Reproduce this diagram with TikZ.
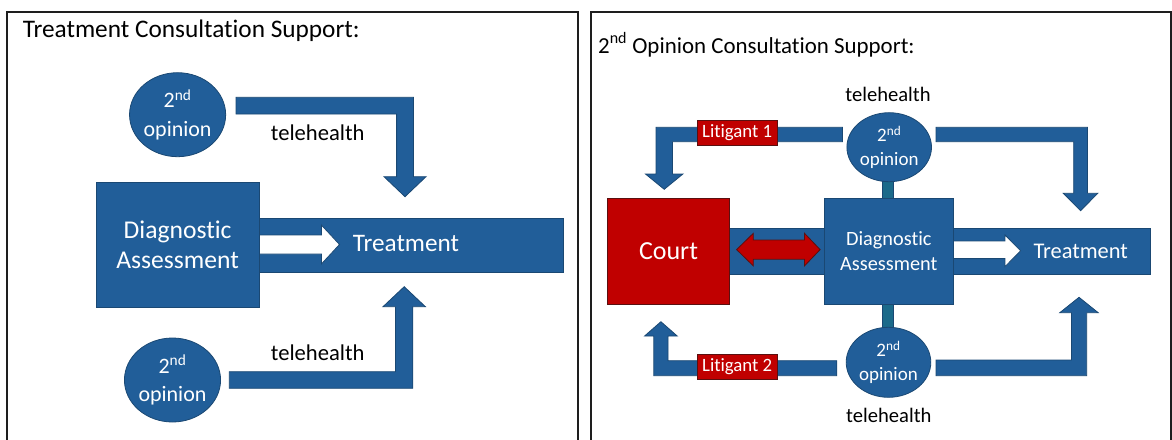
\documentclass[tikz,border=0pt]{standalone}
\usepackage{fontspec}
\setmainfont{Carlito}[Ligatures=NoCommon]
\usetikzlibrary{shapes.geometric}
\definecolor{bfill}{HTML}{215E99}
\definecolor{bline}{HTML}{1A4873}
\definecolor{rfill}{HTML}{C00000}
\definecolor{rline}{HTML}{5A1010}
\definecolor{stem}{HTML}{1B6A8A}
\definecolor{frame}{HTML}{1E1E1E}
\tikzset{
  frameline/.style={draw=frame,line width=2pt},
  blk/.style={fill=bfill,draw=bline,line width=0.8pt},
  redblk/.style={fill=rfill,draw=rline,line width=0.8pt},
  whitearrow/.style={fill=white,draw=bline,line width=0.8pt},
  box/.style={rectangle,blk,inner sep=0pt,text=white,align=center},
  courtbox/.style={rectangle,redblk,inner sep=0pt,text=white,align=center},
  opin/.style={ellipse,blk,inner sep=0pt,text=white,align=center},
  lit/.style={rectangle,redblk,inner sep=0pt,text=white,minimum width=80.6pt,minimum height=24.3pt,font=\fontsize{18.8}{22}\selectfont},
  lbl/.style={inner sep=0pt,text=black},
  bar/.style={rectangle,blk,inner sep=0pt},
}
\begin{document}
\begin{tikzpicture}[x=1pt,y=-1pt]
\useasboundingbox (0,0) rectangle (1172,439);
% frames
\draw[frameline] (7,440) -- (7,12) -- (578,12) -- (578,440);
\draw[frameline] (591,440) -- (591,12) -- (1171,12) -- (1171,440);

% ===== LEFT PANEL =====
\node[lbl,anchor=base west,font=\fontsize{25.3}{28}\selectfont] (t1) at (22.6,37) {Treatment Consultation Support:};

% bent arrows
\path[blk] (236,97.3) -- (413.5,97.3) -- (413.5,176.7) -- (426,176.7) -- (405,196.7) -- (384,176.7) -- (396.6,176.7) -- (396.6,114) -- (236,114) -- cycle;
\path[blk] (229.3,371.7) -- (395.5,371.7) -- (395.5,306.7) -- (383,306.7) -- (404.2,286.7) -- (425.4,306.7) -- (412.8,306.7) -- (412.8,388.3) -- (229.3,388.3) -- cycle;

\node[lbl,font=\fontsize{22.6}{26}\selectfont] (th1) at (317.7,132.7) {telehealth};
\node[lbl,font=\fontsize{22.6}{26}\selectfont] (th2) at (317.7,352.3) {telehealth};

\node[opin,minimum width=94pt,minimum height=84pt,font=\fontsize{22}{28.5}\selectfont] (o1) at (177.6,114.7) {2\textsuperscript{nd}\\opinion};
\node[opin,minimum width=94pt,minimum height=84pt,font=\fontsize{22}{28.5}\selectfont] (o2) at (172.5,380) {2\textsuperscript{nd}\\opinion};

% treatment bar
\node[bar,anchor=north west,minimum width=303.4pt,minimum height=54pt] (tb1) at (259.4,218.3) {};
\path[whitearrow] (259.4,235) -- (321.4,235) -- (321.4,225) -- (339.5,244.5) -- (321.4,264) -- (321.4,254) -- (259.4,254) -- cycle;
\node[lbl,text=white,font=\fontsize{25.2}{30}\selectfont] (tr1) at (406,244) {Treatment};

\node[box,minimum width=163.5pt,minimum height=125pt,font=\fontsize{25.6}{30}\selectfont] (d1) at (177.65,244.8) {Diagnostic\\Assessment};

% ===== RIGHT PANEL =====
\node[lbl,anchor=base west,font=\fontsize{22.9}{26}\selectfont] (t2) at (598,53) {2\textsuperscript{nd} Opinion Consultation Support:};

% stems
\path[fill=stem,draw=bline,line width=0.5pt] (882.5,175) rectangle (893.6,199);
\path[fill=stem,draw=bline,line width=0.5pt] (882.5,304) rectangle (893.6,332);

% bent arrows
\path[blk] (842.4,127.3) -- (656,127.3) -- (656,174) -- (645.5,174) -- (664.2,189.3) -- (682.9,174) -- (672.4,174) -- (672.4,141.7) -- (842.4,141.7) -- cycle;
\path[blk] (936,127.3) -- (1087.4,127.3) -- (1087.4,193.3) -- (1097.8,193.3) -- (1080.55,210.7) -- (1063.3,193.3) -- (1073.7,193.3) -- (1073.7,141.7) -- (936,141.7) -- cycle;
\path[blk] (836.8,360.7) -- (668,360.7) -- (668,336) -- (677.2,336) -- (660.9,321.7) -- (644.6,336) -- (653.8,336) -- (653.8,375.7) -- (836.8,375.7) -- cycle;
\path[blk] (936,360) -- (1071.4,360) -- (1071.4,312.7) -- (1059.8,312.7) -- (1079,297.3) -- (1098.2,312.7) -- (1086.7,312.7) -- (1086.7,375.7) -- (936,375.7) -- cycle;

\node[lit] (l1) at (737.2,132.85) {Litigant 1};
\node[lit] (l2) at (737.2,367) {Litigant 2};

\node[lbl,font=\fontsize{20.6}{24}\selectfont] (th3) at (888,94) {telehealth};
\node[lbl,font=\fontsize{20.6}{24}\selectfont] (th4) at (888.8,415.7) {telehealth};

\node[opin,minimum width=84.6pt,minimum height=69pt,font=\fontsize{19}{23.4}\selectfont] (o3) at (889.2,147.2) {2\textsuperscript{nd}\\opinion};
\node[opin,minimum width=84.6pt,minimum height=70pt,font=\fontsize{19}{23.4}\selectfont] (o4) at (888.5,362.3) {2\textsuperscript{nd}\\opinion};

% bars
\node[bar,anchor=north west,minimum width=95.4pt,minimum height=45.7pt] (cb) at (729.2,228.3) {};
\node[bar,anchor=north west,minimum width=196.8pt,minimum height=45.7pt] (tb2) at (953,228.3) {};

% red double arrow
\path[redblk] (736.6,249.6) -- (753.3,233.3) -- (753.3,240) -- (804.5,240) -- (804.5,233.3) -- (820.1,249.6) -- (804.5,265.9) -- (804.5,259.2) -- (753.3,259.2) -- (753.3,265.9) -- cycle;

% white arrow
\path[whitearrow] (953,241) -- (1005,241) -- (1005,235) -- (1020.6,250.8) -- (1005,266.6) -- (1005,258.6) -- (953,258.6) -- cycle;
\node[lbl,text=white,font=\fontsize{22.4}{26}\selectfont] (tr2) at (1080.7,251.7) {Treatment};

\node[courtbox,minimum width=121.4pt,minimum height=106pt,font=\fontsize{26}{30}\selectfont] (court) at (668.5,251.3) {Court};
\node[box,minimum width=128.4pt,minimum height=106pt,font=\fontsize{20.3}{25}\selectfont] (d2) at (888.8,251.3) {Diagnostic\\Assessment};
\end{tikzpicture}
\end{document}
